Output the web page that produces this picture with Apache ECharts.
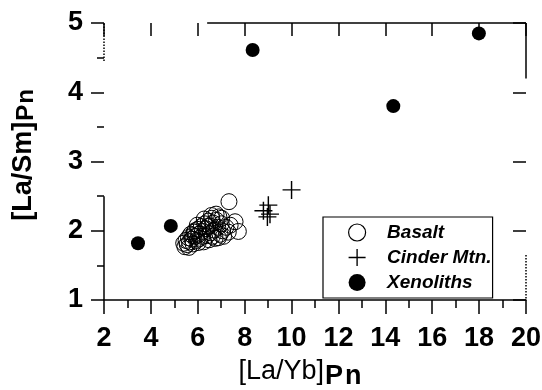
<!DOCTYPE html>
<html>
<head>
<meta charset="utf-8">
<script src="https://cdn.jsdelivr.net/npm/echarts@6/dist/echarts.min.js"></script>
<style>
  html, body { margin: 0; padding: 0; background: #fff; }
  #chart { width: 542px; height: 390px; }
</style>
</head>
<body>
<div id="chart"></div>
<script>
// [La/Yb]Pn, [La/Sm]Pn pairs
var basalt = [
  [5.40, 1.82], [5.50, 1.86], [5.55, 1.80], [5.60, 1.90], [5.65, 1.84],
  [5.70, 1.95], [5.75, 1.88], [5.80, 1.81], [5.85, 1.98], [5.90, 1.92],
  [5.95, 1.86], [6.00, 2.02], [6.05, 1.95], [6.10, 1.89], [6.15, 2.06],
  [6.20, 1.99], [6.25, 1.84], [6.30, 2.10], [6.35, 2.03], [6.40, 1.93],
  [6.45, 2.14], [6.50, 2.07], [6.55, 1.97], [6.60, 2.18], [6.65, 2.11],
  [6.70, 2.01], [6.74, 1.89], [6.80, 2.15], [6.85, 2.05], [6.90, 2.20],
  [6.95, 1.95], [7.00, 2.10], [7.05, 2.00], [7.10, 1.92], [7.20, 2.05],
  [7.30, 1.98], [7.33, 2.42], [7.38, 2.08], [7.59, 2.13], [7.73, 1.99],
  [5.45, 1.77], [5.62, 1.76], [5.78, 1.93], [5.88, 2.00], [6.02, 1.83],
  [6.18, 1.92], [6.28, 2.17], [6.42, 2.06], [6.58, 2.22], [6.62, 1.92],
  [6.78, 2.24], [6.88, 1.90], [7.02, 2.18], [6.48, 1.87], [5.98, 2.08]
];
var cinderMtn = [[8.80, 2.29], [8.97, 2.20], [9.01, 2.37], [9.08, 2.24], [10.00, 2.59]];
var xenoliths = [[3.45, 1.82], [4.85, 2.07], [8.34, 4.61], [14.34, 3.80], [17.99, 4.85]];

var seriesNames = ['Basalt', 'Cinder Mtn.', 'Xenoliths'];
var xMin = 2, xMax = 20, xStep = 2;
var yMin = 1, yMax = 5, yStep = 1;

var plusPath = 'path://M4.6,0h0.8v4.6h4.6v0.8h-4.6v4.6h-0.8v-4.6h-4.6v-0.8h4.6z';

var chart = echarts.init(document.getElementById('chart'));
chart.setOption({
  animation: false,
  backgroundColor: '#fff',
  grid: { left: 104, right: 16, top: 23, bottom: 90, outerBoundsMode: 'none' },
  legend: {
    orient: 'vertical',
    left: 323,
    top: 217,
    padding: [6, 1, 6, 25],
    itemGap: 6,
    itemWidth: 50,
    itemHeight: 17,
    borderColor: '#000',
    borderWidth: 1.2,
    backgroundColor: '#fff',
    textStyle: { fontFamily: 'Arial', fontStyle: 'italic', fontWeight: 'bold', fontSize: 19, color: '#000' },
    data: [
      { name: seriesNames[0], itemStyle: { borderWidth: 1.2 } },
      seriesNames[1],
      seriesNames[2]
    ]
  },
  xAxis: [{
    type: 'value',
    min: xMin, max: xMax, interval: xStep,
    name: '{a|[La/Yb]}{b|P}{c|n}',
    nameLocation: 'middle',
    nameGap: 57,
    nameTextStyle: {
      padding: [0, 30, 0, 0],
      rich: {
        a: { fontFamily: 'Arial', fontSize: 27, color: '#000', verticalAlign: 'top', lineHeight: 30 },
        b: { fontFamily: 'Arial', fontWeight: 'bold', fontSize: 27, color: '#000', lineHeight: 30, padding: [6, 0, 0, 1] },
        c: { fontFamily: 'Arial', fontWeight: 'bold', fontSize: 27, color: '#000', lineHeight: 30, padding: [6, 0, 0, 2] }
      }
    },
    axisLine: { show: true, onZero: false, lineStyle: { color: '#000', width: 1.5 } },
    axisTick: { inside: false, length: 14, lineStyle: { color: '#000', width: 1.5 } },
    minorTick: { show: true, splitNumber: 2, length: 8, lineStyle: { color: '#000', width: 1.5 } },
    axisLabel: { margin: 25, fontFamily: 'Arial', fontWeight: 'bold', fontSize: 27, color: '#000' },
    splitLine: { show: false }
  }, {
    type: 'value',
    position: 'top',
    min: xMin, max: xMax, interval: xStep,
    axisLine: { show: false },
    axisTick: { show: true, inside: true, length: 13, lineStyle: { color: '#000', width: 1.5 } },
    axisLabel: { show: false },
    splitLine: { show: false }
  }],
  yAxis: [{
    type: 'value',
    min: yMin, max: yMax, interval: yStep,
    name: '{a|[La/Sm]}{b|P}{c|n}',
    nameLocation: 'middle',
    nameRotate: 90,
    nameGap: 66,
    nameTextStyle: {
      padding: [0, 0, 0, 13],
      rich: {
        a: { fontFamily: 'Arial', fontWeight: 'bold', fontSize: 27, color: '#000', verticalAlign: 'top', lineHeight: 28 },
        b: { fontFamily: 'Arial', fontWeight: 'bold', fontSize: 24, color: '#000', lineHeight: 28, padding: [4, 0, 0, 1] },
        c: { fontFamily: 'Arial', fontWeight: 'bold', fontSize: 24, color: '#000', lineHeight: 28, padding: [4, 0, 0, 1] }
      }
    },
    axisLine: { show: false },
    axisTick: { show: true, inside: false, length: 13, lineStyle: { color: '#000', width: 1.5 } },
    minorTick: { show: true, splitNumber: 2, length: 7, lineStyle: { color: '#000', width: 1.5 } },
    axisLabel: { margin: 21, fontFamily: 'Arial', fontWeight: 'bold', fontSize: 27, color: '#000' },
    splitLine: { show: false }
  }, {
    type: 'value',
    position: 'right',
    min: yMin, max: yMax, interval: yStep,
    axisLine: { show: false },
    axisTick: { show: true, inside: true, length: 13, lineStyle: { color: '#000', width: 1.5 } },
    axisLabel: { show: false },
    splitLine: { show: false }
  }],
  series: [{
    name: seriesNames[0],
    type: 'scatter',
    data: basalt,
    symbol: 'circle',
    symbolSize: 16,
    itemStyle: { color: 'rgba(0,0,0,0)', borderColor: '#000', borderWidth: 1, opacity: 1 }
  }, {
    name: seriesNames[1],
    type: 'scatter',
    data: cinderMtn,
    symbol: plusPath,
    symbolSize: 18,
    itemStyle: { color: '#000', opacity: 1 }
  }, {
    name: seriesNames[2],
    type: 'scatter',
    data: xenoliths,
    symbol: 'circle',
    symbolSize: 14,
    itemStyle: { color: '#000', opacity: 1 }
  }, {
    // pieces of the plot frame that survive in the scan
    type: 'scatter',
    data: [],
    clip: false,
    silent: true,
    markLine: {
      silent: true,
      symbol: 'none',
      label: { show: false },
      lineStyle: { color: '#000', width: 1.5, type: 'solid' },
      data: [
        [{ coord: [2, 1] }, { coord: [2, 2.5] }],
        [{ coord: [2, 4.45], lineStyle: { type: 'dotted' } }, { coord: [2, 5] }],
        [{ coord: [6.4, 5] }, { coord: [20, 5] }],
        [{ coord: [20, 5] }, { coord: [20, 4.2] }],
        [{ coord: [20, 1.65], lineStyle: { type: 'dotted' } }, { coord: [20, 1] }]
      ]
    }
  }]
});
</script>
</body>
</html>
